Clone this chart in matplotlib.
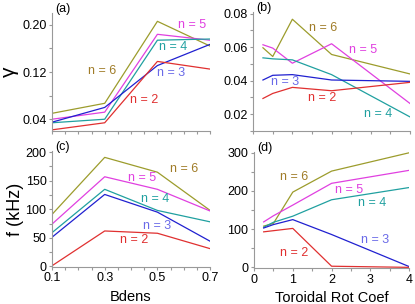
import numpy as np
import matplotlib
matplotlib.use('Agg')
import matplotlib.pyplot as plt
from matplotlib.ticker import MultipleLocator

plt.rcParams['font.family'] = ['Liberation Sans', 'DejaVu Sans']

# Bdens scan (panels a, c)
bdens = [0.1, 0.3, 0.5, 0.7]
gam_a = {
    6: [0.050, 0.067, 0.206, 0.164],
    5: [0.040, 0.052, 0.184, 0.174],
    4: [0.034, 0.040, 0.174, 0.176],
    3: [0.035, 0.060, 0.131, 0.167],
    2: [0.022, 0.034, 0.138, 0.125],
}
freq_c = {
    6: [91, 191, 165, 98],
    5: [74, 157, 135, 97],
    4: [59, 135, 98, 78],
    3: [51, 126, 95, 44],
    2: [1, 62, 58, 31],
}

# toroidal rotation scan (panels b, d)
rot = [0.25, 0.5, 1, 2, 4]
gam_b = {
    6: [0.0596, 0.0544, 0.0766, 0.0556, 0.0440],
    5: [0.0614, 0.0594, 0.0504, 0.0620, 0.0264],
    4: [0.0536, 0.0530, 0.0524, 0.0436, 0.0184],
    3: [0.0404, 0.0432, 0.0436, 0.0404, 0.0396],
    2: [0.0294, 0.0324, 0.0360, 0.0340, 0.0390],
}
freq_d = {
    6: [108, 115, 197, 252, 300],
    5: [119, 135, 163, 220, 254],
    4: [105, 118, 134, 177, 209],
    3: [103, 112, 125, 86, 2],
    2: [93, 96, 102, 3, 0],
}

line_col = {6: '#9c9c2c', 5: '#e040e0', 4: '#20a0a0', 3: '#2020d0', 2: '#e03030'}
text_col = {6: '#a07c28', 5: '#e040e0', 4: '#20a0a0', 3: '#6a6ae8', 2: '#e03030'}

# label positions (data coords) for each panel
lab_a = {6: (0.29, 0.122), 5: (0.63, 0.200), 4: (0.56, 0.163), 3: (0.55, 0.119), 2: (0.45, 0.073)}
lab_b = {6: (1.78, 0.0714), 5: (2.8, 0.0584), 4: (3.18, 0.020), 3: (0.82, 0.039), 2: (1.77, 0.0294)}
lab_c = {6: (0.60, 171), 5: (0.44, 155), 4: (0.49, 118), 3: (0.50, 71), 2: (0.41, 46)}
lab_d = {6: (1.04, 237), 5: (2.46, 203), 4: (3.04, 168), 3: (3.11, 71), 2: (1.04, 38)}

fig = plt.figure(figsize=(4.15, 3.04), dpi=100)
ax_a = fig.add_axes([0.1253, 0.569, 0.381, 0.388])
ax_b = fig.add_axes([0.610, 0.569, 0.378, 0.392])
ax_c = fig.add_axes([0.1253, 0.122, 0.381, 0.381])
ax_d = fig.add_axes([0.612, 0.118, 0.374, 0.382])

panels = [
    (ax_a, bdens, gam_a, lab_a, '(a)'),
    (ax_b, rot, gam_b, lab_b, '(b)'),
    (ax_c, bdens, freq_c, lab_c, '(c)'),
    (ax_d, rot, freq_d, lab_d, '(d)'),
]

for ax, x, data, labs, tag in panels:
    for n in [6, 5, 4, 3, 2]:
        ax.plot(x, data[n], color=line_col[n], lw=0.9)
        ax.text(labs[n][0], labs[n][1], 'n = %d' % n, color=text_col[n],
                fontsize=9, ha='center', va='center')
    for s in ['top', 'right']:
        ax.spines[s].set_visible(False)
    for s in ['left', 'bottom']:
        ax.spines[s].set_color('#999999')
        ax.spines[s].set_linewidth(0.8)
    ax.tick_params(which='both', direction='out', color='#999999', labelsize=9,
                   length=2.5, width=0.8, pad=1.5)
    ax.text(0.02, 0.985, tag, transform=ax.transAxes, fontsize=9, va='bottom', ha='left')

ax_a.set_xlim(0.1, 0.7)
ax_a.set_ylim(0.02, 0.22)
ax_a.set_xticks([0.1, 0.3, 0.5, 0.7])
ax_a.set_xticklabels([])
ax_a.xaxis.set_minor_locator(MultipleLocator(0.05))
ax_a.set_yticks([0.04, 0.12, 0.20])
ax_a.set_yticklabels(['0.04', '0.12', '0.20'])
ax_a.yaxis.set_minor_locator(MultipleLocator(0.04))
ax_a.set_ylabel('γ', fontsize=15, labelpad=2)

ax_b.set_xlim(0, 4)
ax_b.set_ylim(0.01, 0.081)
ax_b.set_xticks([0, 1, 2, 3, 4])
ax_b.set_xticklabels([])
ax_b.xaxis.set_minor_locator(MultipleLocator(0.5))
ax_b.set_yticks([0.02, 0.04, 0.06, 0.08])
ax_b.set_yticklabels(['0.02', '0.04', '0.06', '0.08'])
ax_b.yaxis.set_minor_locator(MultipleLocator(0.01))

ax_c.set_xlim(0.1, 0.7)
ax_c.set_ylim(-1, 202)
ax_c.set_xticks([0.1, 0.3, 0.5, 0.7])
ax_c.set_xticklabels(['0.1', '0.3', '0.5', '0.7'])
ax_c.xaxis.set_minor_locator(MultipleLocator(0.05))
ax_c.set_yticks([0, 50, 100, 150, 200])
ax_c.yaxis.set_minor_locator(MultipleLocator(25))
ax_c.set_xlabel('Bdens', fontsize=10.5, labelpad=4)
ax_c.set_ylabel('f (kHz)', fontsize=13, labelpad=1)

ax_d.set_xlim(0, 4)
ax_d.set_ylim(-2, 302)
ax_d.set_xticks([0, 1, 2, 3, 4])
ax_d.xaxis.set_minor_locator(MultipleLocator(0.5))
ax_d.set_yticks([0, 100, 200, 300])
ax_d.yaxis.set_minor_locator(MultipleLocator(50))
ax_d.set_xlabel('Toroidal Rot Coef', fontsize=10.5, labelpad=4)

fig.savefig('out.png', dpi=100)
